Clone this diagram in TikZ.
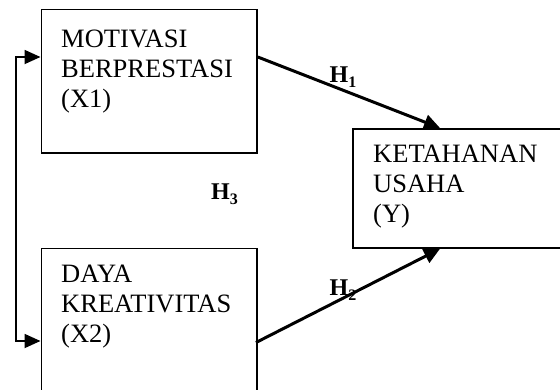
\documentclass[tikz,border=0pt]{standalone}
\usepackage{fontspec}
\setmainfont{Liberation Serif}
\usetikzlibrary{arrows.meta,calc}
\begin{document}
\begin{tikzpicture}[x=1pt,y=-1pt,
  box/.style={draw,line width=1.8pt,anchor=north west,inner sep=0pt,
    minimum width=#1},
  lbl/.style={anchor=base west,inner sep=0pt,font=\fontsize{26.5}{30}\selectfont},
  hyp/.style={anchor=base west,inner sep=0pt,font=\fontsize{24}{24}\selectfont\bfseries},
  conn/.style={line width=3pt,-{Triangle[length=16pt,width=15pt]}},
  brk/.style={line width=1.8pt}]
\useasboundingbox (0,0) rectangle (560,389);
\clip (0,0) rectangle (560,389);
% boxes
\node[box=215.5pt,minimum height=143.5pt] (x1) at (40.5,8.5) {};
\node[box=215.5pt,minimum height=200pt] (x2) at (40.5,247.5) {};
\node[box=300pt,minimum height=119pt] (y) at (352,128) {};
% texts
\node[lbl] (t1) at (61,47) {\begin{tabular}[t]{@{}l@{}}MOTIVASI\\BERPRESTASI\\(X1)\end{tabular}};
\node[lbl] (t2) at (61,282) {\begin{tabular}[t]{@{}l@{}}DAYA\\KREATIVITAS\\(X2)\end{tabular}};
\node[lbl] (t3) at (373,162) {\begin{tabular}[t]{@{}l@{}}KETAHANAN\\USAHA\\(Y)\end{tabular}};
% hypothesis labels
\node[hyp] (h1) at (329.5,82) {H\raisebox{-5.5pt}{\fontsize{16}{16}\selectfont 1}};
\node[hyp] (h2) at (329.5,295) {H\raisebox{-5.5pt}{\fontsize{16}{16}\selectfont 2}};
\node[hyp] (h3) at (211,199) {H\raisebox{-5.5pt}{\fontsize{16}{16}\selectfont 3}};
% connectors
\coordinate (a1) at ($(x1.north east)+(0,48.5)$);
\coordinate (a2) at ($(x2.north west)+(215.5,95)$);
\coordinate (e1) at ($(y.north west)+(88,0)$);
\coordinate (e2) at ($(y.south west)+(88,0)$);
\draw[conn] (a1) -- (e1);
\draw[conn] (a2) -- (e2);
\coordinate (b1) at (16,57);
\coordinate (b2) at (16,341);
\draw[brk] (b1) -- (b2);
\draw[brk,-{Triangle[length=16pt,width=14pt]}] ([xshift=-0.9pt]b1) -- (x1.west |- b1);
\draw[brk,-{Triangle[length=16pt,width=14pt]}] ([xshift=-0.9pt]b2) -- (x2.west |- b2);
\end{tikzpicture}
\end{document}
